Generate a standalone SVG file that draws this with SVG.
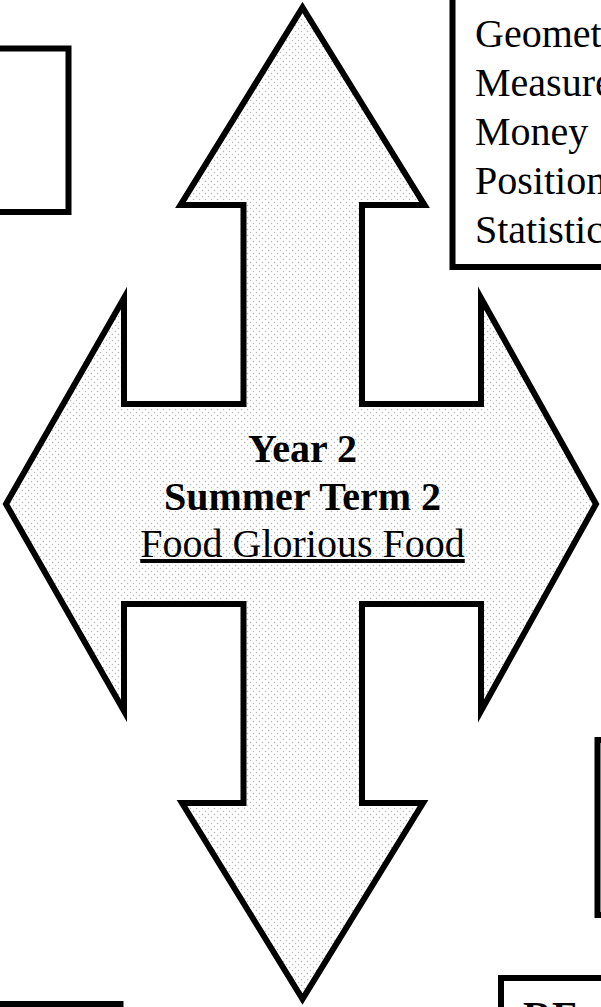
<svg xmlns="http://www.w3.org/2000/svg" width="601" height="1007" viewBox="0 0 601 1007">
  <style>
    .box { fill: #ffffff; stroke: #000000; stroke-width: 6; }
    .arrow { fill: url(#dots); stroke: #000000; stroke-width: 6; stroke-linejoin: miter; stroke-miterlimit: 10; }
    .txt { font-family: "Liberation Serif", "Times New Roman", serif; font-size: 40px; fill: #000000; }
    .bold { font-weight: bold; }
  </style>
  <defs>
    <pattern id="dots" width="6" height="6" patternUnits="userSpaceOnUse">
      <rect width="6" height="6" fill="#ffffff"/>
      <circle cx="1.5" cy="1.5" r="0.75" fill="#b4b4b4"/>
      <circle cx="4.5" cy="4.5" r="0.75" fill="#b4b4b4"/>
    </pattern>
  </defs>
  <rect width="601" height="1007" fill="#ffffff"/>

  <g id="box-top-left">
    <rect class="box" x="-40" y="48.5" width="108.5" height="163.5"/>
  </g>

  <g id="box-maths">
    <rect class="box" x="452.5" y="-20" width="200" height="287"/>
    <text class="txt" x="475" y="47">Geometry</text>
    <text class="txt" x="475" y="96">Measurement</text>
    <text class="txt" x="475" y="145">Money</text>
    <text class="txt" x="475" y="194">Position</text>
    <text class="txt" x="475" y="243">Statistics</text>
  </g>

  <g id="box-right">
    <rect class="box" x="597.5" y="740" width="100" height="175"/>
  </g>

  <g id="box-re">
    <rect class="box" x="501" y="978" width="150" height="80"/>
    <text class="txt bold" x="523" y="1029">RE</text>
  </g>

  <g id="box-bottom-left">
    <rect class="box" x="-40" y="1004" width="160.5" height="80"/>
  </g>

  <g id="centre-arrow">
    <polygon class="arrow" points="302.5,7.5 424.5,205 362,205 362,404 481,404 481,298 596,504 481,711 481,604 362,604 362,803 423,803 302.5,999 182,803 243.5,803 243.5,604 124,604 124,711 6,504 124,298 124,404 243.5,404 243.5,205 180.5,205"/>
    <text class="txt bold" x="302.5" y="461.5" text-anchor="middle">Year 2</text>
    <text class="txt bold" x="302.5" y="510" text-anchor="middle">Summer Term 2</text>
    <text class="txt" x="302.5" y="557" text-anchor="middle" text-decoration="underline">Food Glorious Food</text>
  </g>

  <g id="connectors"></g>
</svg>
